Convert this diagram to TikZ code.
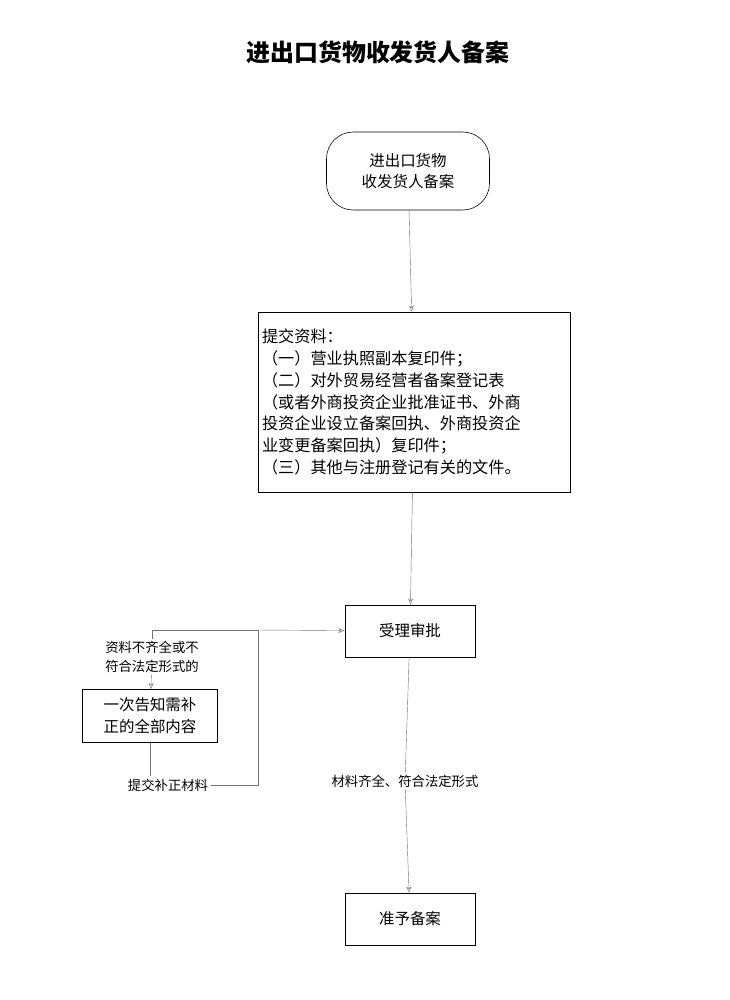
\documentclass[tikz,border=0pt]{standalone}
\usepackage{fontspec}
\setmainfont{Noto Sans CJK SC}
\usetikzlibrary{positioning}
\usetikzlibrary{arrows.meta}
\tikzstyle{stepbox} = [draw, rectangle, line width=0.8pt, align=center, inner sep=0pt]
\tikzstyle{link} = [draw=black!55, line width=0.6pt]
\tikzstyle{flow} = [link, -{Stealth[length=9pt,width=7pt,open]}]
\tikzstyle{note} = [align=center, font=\fontsize{19pt}{26pt}\selectfont]

\begin{document}
\begin{tikzpicture}[x=0.5mm, y=-0.5mm, font=\fontsize{22pt}{31pt}\selectfont]
\useasboundingbox (0,0) rectangle (730,1000);
\node (title) at (378,52) {\fontsize{34pt}{40pt}\selectfont\bfseries 进出口货物收发货人备案};

\node[stepbox, rounded corners=38pt, minimum width=81.5mm, minimum height=39mm] (start) at (408,171) {进出口货物\\收发货人备案};
\node[stepbox, text width=152mm, inner xsep=2mm, minimum height=90mm, align=left, font=\fontsize{23pt}{31pt}\selectfont] (docs) at (414,402) {提交资料：\\（一）营业执照副本复印件；\\（二）对外贸易经营者备案登记表\\（或者外商投资企业批准证书、外商\\投资企业设立备案回执、外商投资企\\业变更备案回执）复印件；\\（三）其他与注册登记有关的文件。};
\node[stepbox, minimum width=65mm, minimum height=26mm] (check) at (410,631) {受理审批};
\node[stepbox, minimum width=65mm, minimum height=26mm] (final) at (410,919) {准予备案};
\node[stepbox, minimum width=67.5mm, minimum height=26.5mm] (fixbox) at (150,716) {一次告知需补\\正的全部内容};

\node[note] (cond) at (152,657) {资料不齐全或不\\符合法定形式的};
\node[note] (submit) at (168,785) {提交补正材料};
\node[note] (ok) at (405,781) {材料齐全、符合法定形式};

\coordinate (corner) at (152,630);
\coordinate (merge) at (258,630);

\draw[flow] (start) -- (docs);
\draw[flow] (docs) -- (check);
\draw[link] (check) -- (ok);
\draw[flow] (ok) -- (final);
\draw[link] (merge) -- (corner) -- (cond);
\draw[flow] (cond) -- (fixbox);
\draw[link] (fixbox) -- (fixbox |- submit.north);
\draw[link] (submit.east) -| (merge);
\draw[flow] (merge) -- (check);
\end{tikzpicture}
\end{document}
